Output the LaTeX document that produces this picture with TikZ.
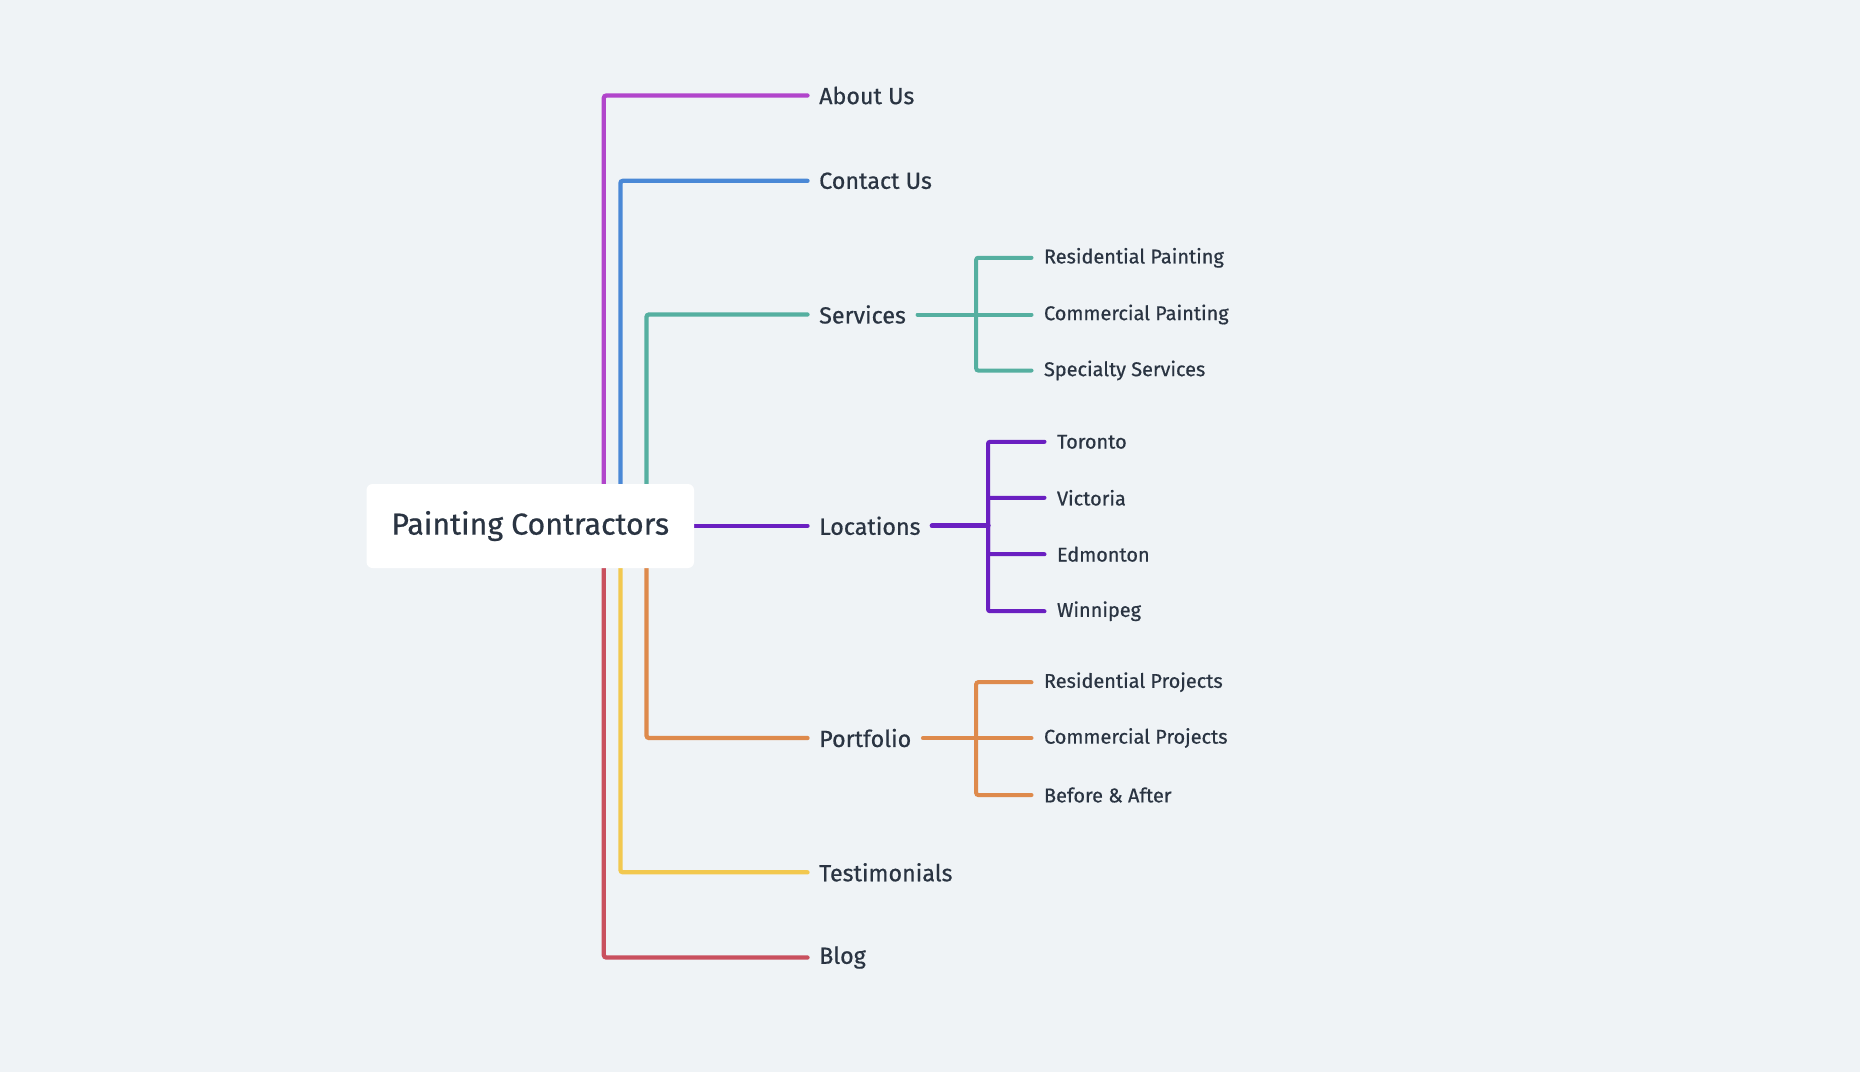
\documentclass[tikz,border=0pt]{standalone}
\usepackage{fontspec}
\setmainfont{Fira Sans}[BoldFont={Fira Sans},BoldFeatures={FakeBold=0.6}]
\definecolor{bgc}{HTML}{EFF3F6}
\definecolor{txtc}{HTML}{2A3442}
\definecolor{cabout}{HTML}{B145CB}
\definecolor{ccontact}{HTML}{4A88D6}
\definecolor{cserv}{HTML}{55AFA0}
\definecolor{cloc}{HTML}{6A1FC1}
\definecolor{cport}{HTML}{DE8A4C}
\definecolor{ctest}{HTML}{F2C84F}
\definecolor{cblog}{HTML}{C9505E}
\begin{document}
\begin{tikzpicture}[x=1pt,y=-1pt,
  rootbox/.style={fill=white,rounded corners=6pt,minimum width=327.5pt,minimum height=84pt,
    font=\fontsize{30.3}{36}\selectfont\bfseries,text=txtc,inner sep=0pt},
  mainlab/.style={anchor=west,inner xsep=11.5pt,inner ysep=0pt,font=\fontsize{23.3}{28}\selectfont\bfseries,text=txtc},
  sublab/.style={anchor=west,inner xsep=12.3pt,inner ysep=0pt,font=\fontsize{19.9}{24}\selectfont\bfseries,text=txtc},
  branch/.style={line width=4.3pt,line cap=round,rounded corners=2.5pt},
  subbranch/.style={line width=4pt,line cap=round,rounded corners=2pt}]
\fill[bgc] (0,0) rectangle (1860,1072);
\useasboundingbox (0,0) rectangle (1860,1072);

% main labels
\node[mainlab] (about) at (807.5,95.5) {About Us};
\node[mainlab] (contact) at (807.5,180.8) {Contact Us};
\node[mainlab] (serv) at (807.5,314.5) {Services};
\node[mainlab] (loc) at (807.5,525.8) {Locations};
\node[mainlab] (port) at (807.5,738) {Portfolio};
\node[mainlab] (test) at (807.5,872.3) {Testimonials};
\node[mainlab] (blog) at (807.5,957.5) {Blog};

% sub labels
\node[sublab] (rpaint) at (1031.5,257.8) {Residential Painting};
\node[sublab] (cpaint) at (1031.5,314.5) {Commercial Painting};
\node[sublab] (spec) at (1031.5,370.5) {Specialty Services};
\node[sublab] (tor) at (1044.5,441.8) {Toronto};
\node[sublab] (vic) at (1044.5,497.8) {Victoria};
\node[sublab] (edm) at (1044.5,554.2) {Edmonton};
\node[sublab] (win) at (1044.5,611.2) {Winnipeg};
\node[sublab] (rproj) at (1031.5,682.2) {Residential Projects};
\node[sublab] (cproj) at (1031.5,738) {Commercial Projects};
\node[sublab] (baa) at (1031.5,795) {Before \& After};

% junctions
\coordinate (sj) at (976.2,314.5);
\coordinate (lj) at (988,525.8);
\coordinate (pj) at (976.2,738);
\coordinate (ax) at (603.8,526);
\coordinate (bx) at (620.4,526);
\coordinate (cx) at (646.5,526);
\coordinate (lx) at (560,525.8);

% main branches (drawn under the root box)
\draw[branch,cabout] (ax) |- (about.west);
\draw[branch,ccontact] (bx) |- (contact.west);
\draw[branch,cserv] (cx) |- (serv.west);
\draw[branch,cport] (cx) |- (port.west);
\draw[branch,ctest] (bx) |- (test.west);
\draw[branch,cblog] (ax) |- (blog.west);
\draw[line width=4.3pt,line cap=round,cloc] (lx) -- (loc.west);

\node[rootbox] (root) at (530.25,526) {Painting Contractors};

% sub branches
\draw[subbranch,cserv] (serv.east) -- (sj);
\draw[subbranch,cserv] (sj) |- (rpaint.west);
\draw[subbranch,cserv] (sj) -- (cpaint.west);
\draw[subbranch,cserv] (sj) |- (spec.west);

\draw[line width=5.2pt,line cap=round,cloc] (loc.east) -- (lj);
\draw[subbranch,cloc] (lj) |- (tor.west);
\draw[subbranch,cloc] (lj) |- (vic.west);
\draw[subbranch,cloc] (lj) |- (edm.west);
\draw[subbranch,cloc] (lj) |- (win.west);

\draw[subbranch,cport] (port.east) -- (pj);
\draw[subbranch,cport] (pj) |- (rproj.west);
\draw[subbranch,cport] (pj) -- (cproj.west);
\draw[subbranch,cport] (pj) |- (baa.west);
\end{tikzpicture}
\end{document}
